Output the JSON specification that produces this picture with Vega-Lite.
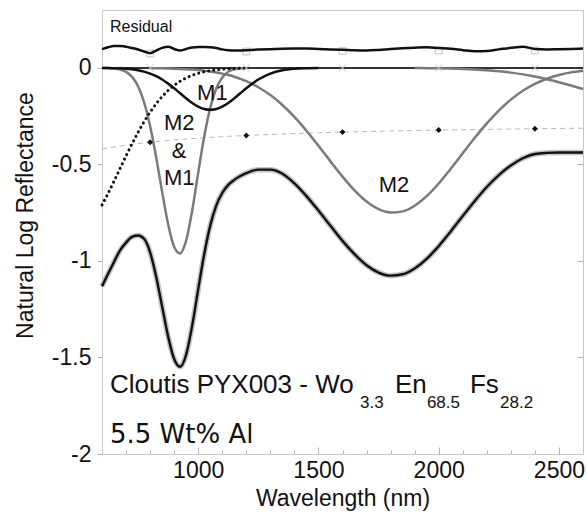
{
  "$schema": "https://vega.github.io/schema/vega-lite/v6.json",
  "width": 481,
  "height": 444,
  "autosize": {"type": "none"},
  "padding": {"left": 102, "top": 10, "right": 4, "bottom": 58},
  "config": {
    "view": {"stroke": "#c8c8c8", "strokeWidth": 1},
    "font": "Liberation Sans",
    "axis": {
      "grid": false,
      "domainColor": "#c8c8c8",
      "tickColor": "#b0b0b0",
      "labelFont": "Liberation Sans",
      "titleFont": "Liberation Sans",
      "labelColor": "#111111",
      "titleColor": "#111111",
      "labelFontSize": 23,
      "titleFontSize": 23,
      "titleFontWeight": "normal"
    }
  },
  "datasets": {
    "spec": [
      {"w":600,"main":-1.131,"resid":0.097,"cont":-0.42,"uv":-0.71,"g1":-0.0003,"m1":-0.0003},
      {"w":625,"main":-1.067,"resid":0.107,"cont":-0.4144,"uv":-0.6505,"g1":-0.001,"m1":-0.0007},
      {"w":650,"main":-1.005,"resid":0.114,"cont":-0.4092,"uv":-0.5869,"g1":-0.003,"m1":-0.0013},
      {"w":675,"main":-0.945,"resid":0.113,"cont":-0.4044,"uv":-0.5213,"g1":-0.0082,"m1":-0.0024},
      {"w":700,"main":-0.905,"resid":0.11,"cont":-0.4,"uv":-0.4561,"g1":-0.0205,"m1":-0.0043},
      {"w":725,"main":-0.875,"resid":0.103,"cont":-0.3959,"uv":-0.3931,"g1":-0.0464,"m1":-0.0074},
      {"w":750,"main":-0.868,"resid":0.095,"cont":-0.392,"uv":-0.3336,"g1":-0.0953,"m1":-0.0122},
      {"w":775,"main":-0.885,"resid":0.085,"cont":-0.3884,"uv":-0.2787,"g1":-0.1779,"m1":-0.0193},
      {"w":800,"main":-0.955,"resid":0.076,"cont":-0.385,"uv":-0.2294,"g1":-0.3007,"m1":-0.0294,"m2":-0.0011},
      {"w":825,"main":-1.08,"resid":0.09,"cont":-0.3818,"uv":-0.186,"g1":-0.4613,"m1":-0.0429,"m2":-0.0015},
      {"w":850,"main":-1.236,"resid":0.104,"cont":-0.3788,"uv":-0.1484,"g1":-0.6417,"m1":-0.0603,"m2":-0.002},
      {"w":875,"main":-1.392,"resid":0.11,"cont":-0.376,"uv":-0.1167,"g1":-0.8095,"m1":-0.0814,"m2":-0.0028},
      {"w":900,"main":-1.508,"resid":0.098,"cont":-0.3733,"uv":-0.0903,"g1":-0.9263,"m1":-0.1056,"m2":-0.0037},
      {"w":925,"main":-1.548,"resid":0.09,"cont":-0.3708,"uv":-0.0689,"g1":-0.9612,"m1":-0.1316,"m2":-0.005},
      {"w":950,"main":-1.485,"resid":0.098,"cont":-0.3684,"uv":-0.0517,"g1":-0.8938,"m1":-0.1576,"m2":-0.0066},
      {"w":975,"main":-1.335,"resid":0.106,"cont":-0.3662,"uv":-0.0383,"g1":-0.7391,"m1":-0.1813,"m2":-0.0086},
      {"w":1000,"main":-1.147,"resid":0.108,"cont":-0.364,"uv":-0.0279,"g1":-0.5436,"m1":-0.2003,"m2":-0.0112},
      {"w":1025,"main":-0.965,"resid":0.108,"cont":-0.362,"uv":-0.02,"g1":-0.3555,"m1":-0.2127,"m2":-0.0144},
      {"w":1050,"main":-0.817,"resid":0.107,"cont":-0.36,"uv":-0.0141,"g1":-0.2068,"m1":-0.217,"m2":-0.0185},
      {"w":1075,"main":-0.713,"resid":0.103,"cont":-0.3581,"uv":-0.0098,"g1":-0.107,"m1":-0.2127,"m2":-0.0235},
      {"w":1100,"main":-0.648,"resid":0.096,"cont":-0.3564,"uv":-0.0067,"g1":-0.0492,"m1":-0.2003,"m2":-0.0296},
      {"w":1125,"main":-0.606,"resid":0.092,"cont":-0.3547,"uv":-0.0045,"g1":-0.0201,"m1":-0.1813,"m2":-0.037},
      {"w":1150,"main":-0.58,"resid":0.09,"cont":-0.353,"uv":-0.003,"g1":-0.0073,"m1":-0.1576,"m2":-0.0458},
      {"w":1175,"main":-0.56,"resid":0.09,"cont":-0.3515,"uv":-0.002,"g1":-0.0024,"m1":-0.1316,"m2":-0.0564},
      {"w":1200,"main":-0.545,"resid":0.092,"cont":-0.35,"uv":-0.0013,"g1":-0.0007,"m1":-0.1056,"m2":-0.0688},
      {"w":1250,"main":-0.527,"resid":0.095,"cont":-0.3472,"m1":-0.0603,"m2":-0.1001},
      {"w":1300,"main":-0.527,"resid":0.097,"cont":-0.3446,"m1":-0.0294,"m2":-0.1409},
      {"w":1350,"main":-0.548,"resid":0.099,"cont":-0.3422,"m1":-0.0122,"m2":-0.1922},
      {"w":1400,"main":-0.598,"resid":0.1,"cont":-0.34,"m1":-0.0043,"m2":-0.254},
      {"w":1450,"main":-0.664,"resid":0.1,"cont":-0.3379,"m1":-0.0013,"m2":-0.3252},
      {"w":1500,"main":-0.739,"resid":0.098,"cont":-0.336,"m1":-0.0003,"m2":-0.4031},
      {"w":1550,"main":-0.818,"resid":0.096,"cont":-0.3342,"m2":-0.4841},
      {"w":1600,"main":-0.896,"resid":0.094,"cont":-0.3325,"m2":-0.5631},
      {"w":1650,"main":-0.965,"resid":0.091,"cont":-0.3309,"m2":-0.6344},
      {"w":1700,"main":-1.022,"resid":0.09,"cont":-0.3294,"m2":-0.6923},
      {"w":1750,"main":-1.06,"resid":0.093,"cont":-0.328,"m2":-0.7319},
      {"w":1800,"main":-1.076,"resid":0.098,"cont":-0.3267,"m2":-0.7493},
      {"w":1850,"main":-1.069,"resid":0.102,"cont":-0.3254,"m2":-0.7431},
      {"w":1900,"main":-1.039,"resid":0.105,"cont":-0.3242,"m2":-0.7138,"b3":-0.0007},
      {"w":1950,"main":-0.989,"resid":0.107,"cont":-0.3231,"m2":-0.6642,"b3":-0.0012},
      {"w":2000,"main":-0.923,"resid":0.103,"cont":-0.322,"m2":-0.5987,"b3":-0.002},
      {"w":2050,"main":-0.847,"resid":0.099,"cont":-0.321,"m2":-0.5226,"b3":-0.0033},
      {"w":2100,"main":-0.767,"resid":0.092,"cont":-0.32,"m2":-0.4419,"b3":-0.0051},
      {"w":2150,"main":-0.689,"resid":0.086,"cont":-0.3191,"m2":-0.362,"b3":-0.0079},
      {"w":2200,"main":-0.617,"resid":0.088,"cont":-0.3182,"m2":-0.2872,"b3":-0.0118},
      {"w":2250,"main":-0.555,"resid":0.096,"cont":-0.3173,"m2":-0.2207,"b3":-0.0172},
      {"w":2300,"main":-0.505,"resid":0.104,"cont":-0.3165,"m2":-0.1643,"b3":-0.0244},
      {"w":2350,"main":-0.468,"resid":0.11,"cont":-0.3157,"m2":-0.1184,"b3":-0.0335},
      {"w":2400,"main":-0.446,"resid":0.098,"cont":-0.315,"m2":-0.0827,"b3":-0.0449},
      {"w":2450,"main":-0.44,"resid":0.096,"cont":-0.3143,"m2":-0.056,"b3":-0.0584},
      {"w":2500,"main":-0.438,"resid":0.097,"cont":-0.3136,"m2":-0.0367,"b3":-0.074},
      {"w":2550,"main":-0.438,"resid":0.098,"cont":-0.3129,"m2":-0.0232,"b3":-0.0911},
      {"w":2600,"main":-0.438,"resid":0.1,"cont":-0.3123,"m2":-0.0143,"b3":-0.1092}
    ],
    "mk": [
      {"w":800,"cont":-0.385,"sq":0.075,"zero":0},
      {"w":1200,"cont":-0.35,"sq":0.085,"zero":0},
      {"w":1600,"cont":-0.3325,"sq":0.088,"zero":0},
      {"w":2000,"cont":-0.322,"sq":0.09,"zero":0},
      {"w":2400,"cont":-0.315,"sq":0.09,"zero":0}
    ]
  },
  "resolve": {"axis": {"y": "independent", "x": "independent"}},
  "layer": [
    {
      "data": {"name": "spec"},
      "mark": {"type": "line", "color": "#b8b8b8", "strokeWidth": 1, "strokeDash": [5, 4], "interpolate": "monotone"},
      "encoding": {
        "x": {"field": "w", "type": "quantitative", "scale": {"domain": [600, 2600], "nice": false, "zero": false},
          "axis": {
            "orient": "bottom",
            "title": null,
            "values": [700, 800, 900, 1100, 1200, 1300, 1400, 1600, 1700, 1800, 1900, 2100, 2200, 2300, 2400],
            "labels": false,
            "tickSize": -4
          }
        },
        "y": {"field": "cont", "type": "quantitative", "scale": {"domain": [-2, 0.3], "nice": false, "zero": false},
          "axis": {
            "title": "Natural Log Reflectance",
            "values": [-2, -1.5, -1, -0.5, 0],
            "labelExpr": "toString(datum.value)",
            "tickSize": 5,
            "labelPadding": 6,
            "titleX": -77,
            "titleY": 205,
            "titleBaseline": "middle",
            "titleAlign": "center",
            "titleAngle": -90
          }
        }
      }
    },
    {
      "data": {"values": [{"z": 0}]},
      "mark": {"type": "rule", "color": "#333333", "strokeWidth": 2},
      "encoding": {
        "y": {"field": "z", "type": "quantitative",
          "axis": {"orient": "right", "values": [-1.5, -1, -0.5, 0], "labels": false, "title": null, "domain": false, "tickSize": -6}
        }
      }
    },
    {
      "data": {"name": "spec"},
      "mark": {"type": "line", "color": "#7a7a7a", "strokeWidth": 2.5, "interpolate": "monotone"},
      "encoding": {"x": {"field": "w", "type": "quantitative", "axis": null}, "y": {"field": "b3", "type": "quantitative", "axis": null}}
    },
    {
      "data": {"name": "spec"},
      "mark": {"type": "line", "color": "#7a7a7a", "strokeWidth": 2.5, "interpolate": "monotone"},
      "encoding": {"x": {"field": "w", "type": "quantitative", "axis": null}, "y": {"field": "m2", "type": "quantitative", "axis": null}}
    },
    {
      "data": {"name": "spec"},
      "mark": {"type": "line", "color": "#7a7a7a", "strokeWidth": 2.5, "interpolate": "monotone"},
      "encoding": {"x": {"field": "w", "type": "quantitative", "axis": null}, "y": {"field": "g1", "type": "quantitative", "axis": null}}
    },
    {
      "data": {"name": "spec"},
      "mark": {"type": "line", "color": "#111111", "strokeWidth": 2.5, "interpolate": "monotone"},
      "encoding": {"x": {"field": "w", "type": "quantitative", "axis": null}, "y": {"field": "m1", "type": "quantitative", "axis": null}}
    },
    {
      "data": {"name": "spec"},
      "mark": {"type": "line", "color": "#111111", "strokeWidth": 3, "strokeDash": [0.1, 5], "strokeCap": "round", "interpolate": "monotone"},
      "encoding": {"x": {"field": "w", "type": "quantitative", "axis": null}, "y": {"field": "uv", "type": "quantitative", "axis": null}}
    },
    {
      "data": {"name": "spec"},
      "mark": {"type": "line", "color": "#c4c4c4", "strokeWidth": 5.5, "interpolate": "monotone"},
      "encoding": {"x": {"field": "w", "type": "quantitative", "axis": null}, "y": {"field": "main", "type": "quantitative", "axis": null}}
    },
    {
      "data": {"name": "spec"},
      "mark": {"type": "line", "color": "#111111", "strokeWidth": 2.4, "interpolate": "monotone"},
      "encoding": {"x": {"field": "w", "type": "quantitative", "axis": null}, "y": {"field": "main", "type": "quantitative", "axis": null}}
    },
    {
      "data": {"name": "mk"},
      "mark": {"type": "point", "shape": "square", "filled": false, "stroke": "#bdbdbd", "strokeWidth": 1.2, "size": 45},
      "encoding": {"x": {"field": "w", "type": "quantitative", "axis": null}, "y": {"field": "sq", "type": "quantitative", "axis": null}}
    },
    {
      "data": {"name": "spec"},
      "mark": {"type": "line", "color": "#111111", "strokeWidth": 2.5, "interpolate": "monotone"},
      "encoding": {"x": {"field": "w", "type": "quantitative", "axis": null}, "y": {"field": "resid", "type": "quantitative", "axis": null}}
    },
    {
      "data": {"name": "mk"},
      "mark": {"type": "point", "shape": "M-1,-1L1,1M-1,1L1,-1", "filled": false, "stroke": "#c8c8c8", "strokeWidth": 1.2, "size": 50},
      "encoding": {"x": {"field": "w", "type": "quantitative", "axis": null}, "y": {"field": "zero", "type": "quantitative", "axis": null}}
    },
    {
      "data": {"name": "mk"},
      "mark": {"type": "point", "shape": "diamond", "filled": true, "color": "#111111", "size": 35, "opacity": 1},
      "encoding": {
        "x": {"field": "w", "type": "quantitative",
          "axis": {
            "orient": "bottom",
            "title": "Wavelength (nm)",
            "values": [1000, 1500, 2000, 2500],
            "format": "d",
            "domain": false,
            "tickSize": -7,
            "labelPadding": 12,
            "labelOverlap": false,
            "titleY": 51,
            "titleBaseline": "alphabetic"
          }
        },
        "y": {"field": "cont", "type": "quantitative", "axis": null}
      }
    },
    {
      "data": {"values": [{"w": 633, "v": 0.187, "t": "Residual"}]},
      "mark": {"type": "text", "font": "Liberation Sans", "fontSize": 16, "align": "left", "baseline": "alphabetic", "color": "#111111"},
      "encoding": {"x": {"field": "w", "type": "quantitative", "axis": null}, "y": {"field": "v", "type": "quantitative", "axis": null}, "text": {"field": "t"}}
    },
    {
      "data": {"values": [
        {"w": 1059, "v": -0.166, "t": "M1"},
        {"w": 921, "v": -0.321, "t": "M2"},
        {"w": 921, "v": -0.466, "t": "&"},
        {"w": 921, "v": -0.606, "t": "M1"},
        {"w": 1814, "v": -0.642, "t": "M2"}
      ]},
      "mark": {"type": "text", "font": "Liberation Sans", "fontSize": 22, "align": "center", "baseline": "alphabetic", "color": "#111111"},
      "encoding": {"x": {"field": "w", "type": "quantitative", "axis": null}, "y": {"field": "v", "type": "quantitative", "axis": null}, "text": {"field": "t"}}
    },
    {
      "data": {"values": [
        {"w": 633, "v": -1.684, "t": "Cloutis PYX003 - Wo"},
        {"w": 1818, "v": -1.684, "t": "En"},
        {"w": 2130, "v": -1.684, "t": "Fs"}
      ]},
      "mark": {"type": "text", "font": "Liberation Sans", "fontSize": 26, "align": "left", "baseline": "alphabetic", "color": "#111111"},
      "encoding": {"x": {"field": "w", "type": "quantitative", "axis": null}, "y": {"field": "v", "type": "quantitative", "axis": null}, "text": {"field": "t"}}
    },
    {
      "data": {"values": [
        {"w": 1673, "v": -1.762, "t": "3.3"},
        {"w": 1951, "v": -1.762, "t": "68.5"},
        {"w": 2255, "v": -1.762, "t": "28.2"}
      ]},
      "mark": {"type": "text", "font": "Liberation Sans", "fontSize": 17, "align": "left", "baseline": "alphabetic", "color": "#111111"},
      "encoding": {"x": {"field": "w", "type": "quantitative", "axis": null}, "y": {"field": "v", "type": "quantitative", "axis": null}, "text": {"field": "t"}}
    },
    {
      "data": {"values": [{"w": 633, "v": -1.943, "t": "5.5 Wt% Al"}]},
      "mark": {"type": "text", "font": "DejaVu Sans", "fontSize": 26, "align": "left", "baseline": "alphabetic", "color": "#111111"},
      "encoding": {"x": {"field": "w", "type": "quantitative", "axis": null}, "y": {"field": "v", "type": "quantitative", "axis": null}, "text": {"field": "t"}}
    }
  ]
}
